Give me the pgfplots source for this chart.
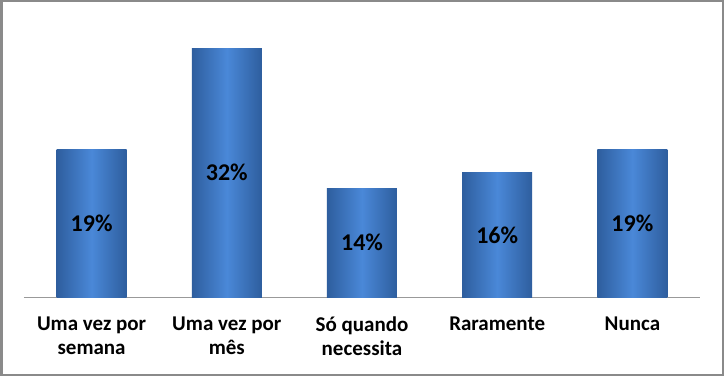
\documentclass[border=0pt]{standalone}
\usepackage{pgfplots}
\usepackage{pgfplotstable}
\pgfplotsset{compat=1.18}
\usepackage{fontspec}
\setmainfont{Carlito}
\definecolor{bdark}{HTML}{2E5E9E}
\definecolor{blight}{HTML}{4A88D8}
\definecolor{frame}{HTML}{8A8A8A}
\pgfplotstableread{
x y
0 19
1 32
2 14
3 16
4 19
}\data
\pgfplotsset{mybar/.style={ybar, bar width=70pt, bar shift=0pt, draw=none,
  left color=bdark, right color=bdark, middle color=blight}}
\begin{document}
\begin{tikzpicture}[x=1pt,y=1pt]
\useasboundingbox (0,0) rectangle (724,376);
\fill[white] (0,0) rectangle (724,376);
\draw[line width=2.5pt, frame] (1.25,1.25) rectangle (722.75,374.75);
\begin{axis}[
  at={(24pt,79pt)}, anchor=south west,
  scale only axis, width=676pt, height=272pt,
  xmin=-0.5, xmax=4.5, ymin=0, ymax=35,
  axis x line=bottom, axis y line=none,
  axis line style={draw=gray!80, line width=0.8pt, -},
  xtick={0,1,2,3,4},
  xticklabels={Uma vez por\\semana, Uma vez por\\mês, Só quando\\necessita, Raramente, Nunca},
  xticklabel style={align=center, font=\bfseries\fontsize{21}{24}\selectfont, yshift=-16pt},
  major tick length=0pt,
  clip=false,
  /pgf/number format/assume math mode=true,
]
\addplot[mybar] coordinates {(0,19)};
\addplot[mybar] coordinates {(1,32)};
\addplot[mybar] coordinates {(2,14)};
\addplot[mybar] coordinates {(3,16)};
\addplot[mybar] coordinates {(4,19)};
\addplot[draw=none, mark=none,
  nodes near coords={\pgfmathprintnumber{\pgfplotspointmeta}\%},
  every node near coord/.append style={anchor=center, font=\bfseries\fontsize{24}{28}\selectfont, text=black},
  point meta=\thisrow{y}] table[x=x, y expr=\thisrow{y}/2] \data;
\end{axis}
\end{tikzpicture}
\end{document}
